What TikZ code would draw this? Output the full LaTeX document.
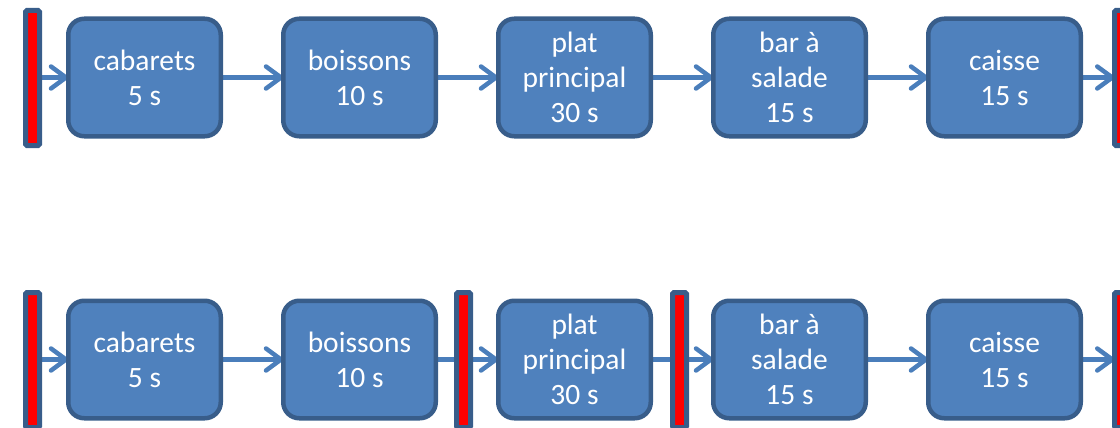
\documentclass[tikz,border=0pt]{standalone}
\usepackage{fontspec}
\setmainfont{Carlito}
\usetikzlibrary{arrows.meta}
\definecolor{boxfill}{HTML}{4F81BD}
\definecolor{boxline}{HTML}{385D8A}
\definecolor{arrcol}{HTML}{4A7EBB}
\pgfdeclarelayer{background}
\pgfsetlayers{background,main}
\tikzset{
  stage/.style={draw=boxline, fill=boxfill, line width=4.5pt, rounded corners=16pt,
    minimum width=152.5pt, minimum height=117.5pt, inner sep=0pt, outer sep=0pt,
    text=white, align=center, font=\fontsize{29.5}{35}\selectfont},
  barrier/.style={draw=boxline, fill=red, line width=5pt, rounded corners=1.5pt,
    minimum width=14pt, minimum height=135pt, inner sep=0pt, outer sep=0pt},
  flow/.style={draw=arrcol, line width=4.5pt,
    -{Straight Barb[length=15pt,width=22pt,line cap=round,line join=round]}}
}
\begin{document}
\begin{tikzpicture}[x=1pt,y=-1pt]
\useasboundingbox (0,0) rectangle (1120,428);
% top row
\node[barrier] (tb0) at (32.5,78) {};
\node[stage] (t1) at (144.5,77.5) {cabarets\\5 s};
\node[stage] (t2) at (359.5,77.5) {boissons\\10 s};
\node[stage] (t3) at (574.5,77.5) {plat\\principal\\30 s};
\node[stage] (t4) at (789.5,77.5) {bar à\\salade\\15 s};
\node[stage] (t5) at (1004.5,77.5) {caisse\\15 s};
\node[barrier] (tb5) at (1121.5,78) {};
% bottom row
\node[barrier] (bb0) at (32.5,360) {};
\node[stage] (b1) at (144.5,359.5) {cabarets\\5 s};
\node[stage] (b2) at (359.5,359.5) {boissons\\10 s};
\node[barrier] (bb2) at (463.5,360) {};
\node[stage] (b3) at (574.5,359.5) {plat\\principal\\30 s};
\node[barrier] (bb3) at (679.5,360) {};
\node[stage] (b4) at (789.5,359.5) {bar à\\salade\\15 s};
\node[stage] (b5) at (1004.5,359.5) {caisse\\15 s};
\node[barrier] (bb5) at (1121.5,360) {};
\begin{pgfonlayer}{background}
\draw[flow] (tb0.east |- t1.west) -- (t1.west);
\draw[flow] (t1.east) -- (t2.west);
\draw[flow] (t2.east) -- (t3.west);
\draw[flow] (t3.east) -- (t4.west);
\draw[flow] (t4.east) -- (t5.west);
\draw[flow] (t5.east) -- (tb5.west |- t5.east);
\draw[flow] (bb0.east |- b1.west) -- (b1.west);
\draw[flow] (b1.east) -- (b2.west);
\draw[flow] (b2.east) -- (b3.west);
\draw[flow] (b3.east) -- (b4.west);
\draw[flow] (b4.east) -- (b5.west);
\draw[flow] (b5.east) -- (bb5.west |- b5.east);
\end{pgfonlayer}
\end{tikzpicture}
\end{document}
